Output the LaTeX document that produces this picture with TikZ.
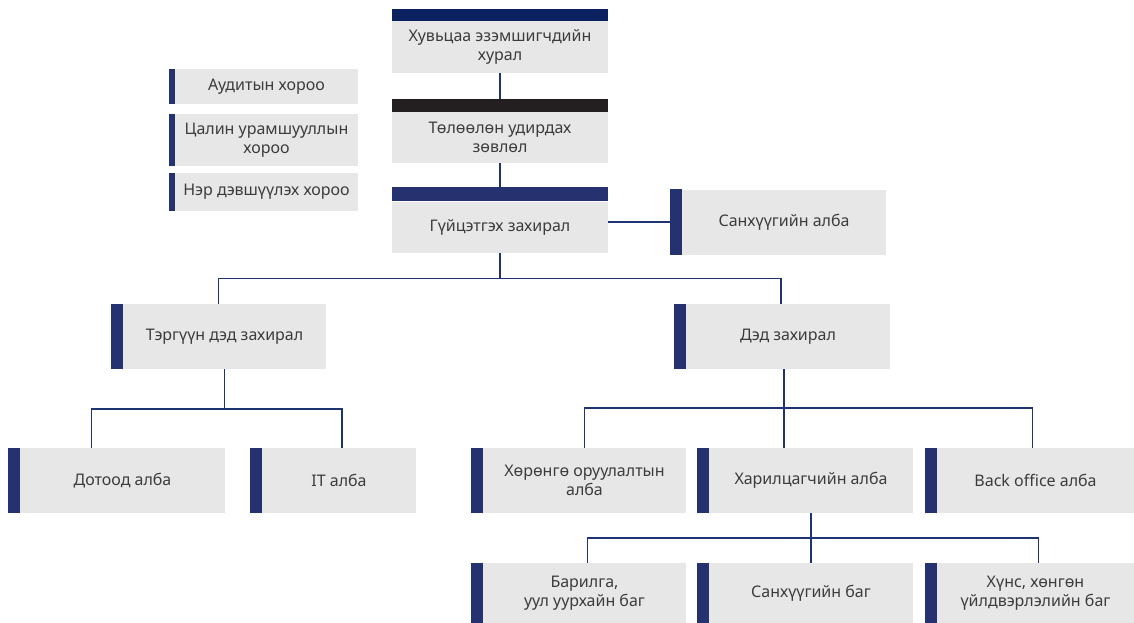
\documentclass[tikz,border=0pt]{standalone}
\usepackage{fontspec}
\setmainfont{Noto Sans}
\usepackage{tikz}

\definecolor{boxgray}{HTML}{E7E7E7}
\definecolor{barblue}{HTML}{263270}
\definecolor{topnavy}{HTML}{0B2160}
\definecolor{topblack}{HTML}{231F20}
\definecolor{linkblue}{HTML}{1F3372}
\definecolor{txtgray}{HTML}{3C3C3C}

\begin{document}
\begin{tikzpicture}[x=1pt,y=-1pt,
   box/.style={fill=boxgray,text=txtgray,align=center,inner sep=0pt,
      font=\fontsize{16}{19.5}\selectfont},
   unit/.style={box,minimum width=204pt,minimum height=65pt},
   link/.style={draw=linkblue,line width=1.5pt}]

\useasboundingbox (0,0) rectangle (1134,622);

% board level
\node[box,minimum width=216pt,minimum height=52pt] (huv) at (500,47){Хувьцаа эзэмшигчдийн\\хурал};
\node[box,minimum width=216pt,minimum height=51pt] (tol) at (500,137.5){Төлөөлөн удирдах\\зөвлөл};
\node[box,minimum width=216pt,minimum height=51pt] (guits) at (500,227){Гүйцэтгэх захирал};
\node[unit] (san) at (784,222){Санхүүгийн алба};

% committees
\node[box,minimum width=183pt,minimum height=35pt] (aud) at (266.5,86.5){Аудитын хороо};
\node[box,minimum width=183pt,minimum height=52pt] (tsal) at (266.5,140){Цалин урамшууллын\\хороо};
\node[box,minimum width=183pt,minimum height=38pt] (ner) at (266.5,192){Нэр дэвшүүлэх хороо};

% deputies
\node[unit,minimum width=203pt] (terg) at (224.5,336.5){Тэргүүн дэд захирал};
\node[unit] (dedz) at (788,336.5){Дэд захирал};

% departments
\node[unit,minimum width=205pt] (dotood) at (122.5,480.5){Дотоод алба};
\node[unit,minimum width=154pt] (it) at (339,480.5){IT алба};
\node[unit,minimum width=203pt] (hor) at (584.5,480.5){Хөрөнгө оруулалтын\\алба};
\node[unit] (har) at (811,480.5){Харилцагчийн алба};
\node[unit,minimum width=197pt] (back) at (1035.5,480.5){Back office алба};

% teams
\node[unit,minimum width=203pt,minimum height=60pt] (barilga) at (584.5,593){Барилга,\\уул уурхайн баг};
\node[unit,minimum height=60pt] (sankh) at (811,593){Санхүүгийн баг};
\node[unit,minimum width=197pt,minimum height=60pt] (huns) at (1035.5,593){Хүнс, хөнгөн\\үйлдвэрлэлийн баг};

\draw[link] (huv.south) -- (tol.north);
\draw[link] (tol.south) -- (guits.north);
\draw[link] (san.west) -- (san.west -| guits.east);
\draw[link] (guits.south) -- ++(0,26) -| ([xshift=-6pt]terg.north);
\draw[link] (guits.south) -- ++(0,26) -| ([xshift=-7pt]dedz.north);
\draw[link] (terg.south) -- ++(0,40) -| ([xshift=-31pt]dotood.north);
\draw[link] (terg.south) -- ++(0,40) -| ([xshift=3pt]it.north);
\draw[link] ([xshift=-4pt]dedz.south) -- ++(0,39) -| (hor.north);
\draw[link] ([xshift=-4pt]dedz.south) -- ++(0,39) -| ([xshift=-3pt]back.north);
\draw[link] ([xshift=-4pt]dedz.south) -- ([xshift=-4pt]dedz.south |- har.north);
\draw[link] (har.south) -- ++(0,25) -| ([xshift=3pt]barilga.north);
\draw[link] (har.south) -- ++(0,25) -| (sankh.north);
\draw[link] (har.south) -- ++(0,25) -| ([xshift=3pt]huns.north);

% side bars and top bars
\foreach \n in {san,terg,dedz,dotood,it,hor,har,back,barilga,sankh,huns}
   \fill[barblue] ([xshift=-12pt]\n.north west) rectangle (\n.south west);
\foreach \n in {aud,tsal,ner}
   \fill[barblue] ([xshift=-6pt]\n.north west) rectangle (\n.south west);
\fill[topnavy] ([yshift=12pt]huv.north west) rectangle (huv.north east);
\fill[topblack] ([yshift=13pt]tol.north west) rectangle (tol.north east);
\fill[barblue] ([yshift=14pt]guits.north west) rectangle (guits.north east);

\end{tikzpicture}
\end{document}
